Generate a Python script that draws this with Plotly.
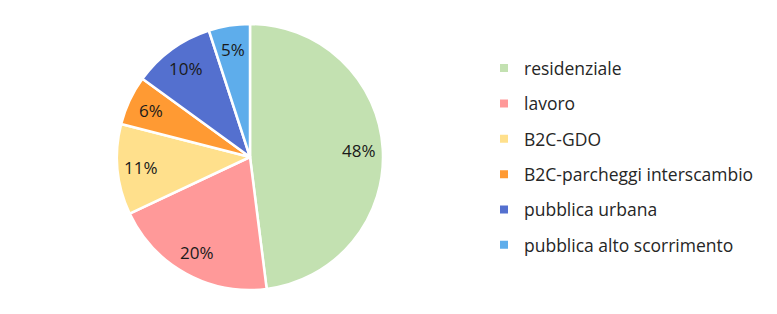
import math
import plotly.graph_objects as go

labels = ["residenziale", "lavoro", "B2C-GDO", "B2C-parcheggi interscambio",
          "pubblica urbana", "pubblica alto scorrimento"]
values = [48, 20, 11, 6, 10, 5]
colors = ["#C3E1B1", "#FF9999", "#FFE08C", "#FF9A33", "#5470CF", "#5EADEB"]

FONT = "Open Sans"
W, H = 777, 314
DOM_X = [117/W, 383/W]
DOM_Y = [24/H, 290/H]
LABEL_R = 0.82

fig = go.Figure()
fig.add_trace(go.Pie(
    labels=labels, values=values, sort=False, direction="clockwise", rotation=0,
    marker=dict(colors=colors, line=dict(color="white", width=2.5)),
    textinfo="none",
    showlegend=False, hoverinfo="label+percent",
    domain=dict(x=DOM_X, y=DOM_Y),
))

# percentage labels placed at each slice's mid-angle, derived from the data
total = sum(values)
cx = (DOM_X[0] + DOM_X[1]) / 2 * W
cy = (DOM_Y[0] + DOM_Y[1]) / 2 * H
rad = (DOM_Y[1] - DOM_Y[0]) * H / 2
cum = 0
for v in values:
    mid = (cum + v / 2) / total * 2 * math.pi
    cum += v
    px = cx + LABEL_R * rad * math.sin(mid)
    py = cy + LABEL_R * rad * math.cos(mid)
    fig.add_annotation(x=px / W, y=py / H, xref="paper", yref="paper",
                       xanchor="center", yanchor="middle",
                       text=f"{round(v / total * 100)}%", showarrow=False,
                       font=dict(family=FONT, size=17, color="#1a1a1a"))

for lab, col in zip(labels, colors):
    fig.add_trace(go.Scatter(
        x=[None], y=[None], mode="markers", name=lab, legendgroup=lab,
        marker=dict(symbol="square", size=8, color=col),
        showlegend=True,
    ))
fig.update_layout(
    width=W, height=H, margin=dict(l=0, r=0, t=0, b=0),
    paper_bgcolor="white", plot_bgcolor="white",
    xaxis=dict(visible=False), yaxis=dict(visible=False),
    legend=dict(x=484/W, y=0.84, xanchor="left", yanchor="top",
                font=dict(family=FONT, size=17.5, color="#262626"),
                tracegroupgap=9.6, itemwidth=30, bgcolor="rgba(0,0,0,0)"),
)
fig.write_html("out.html")
